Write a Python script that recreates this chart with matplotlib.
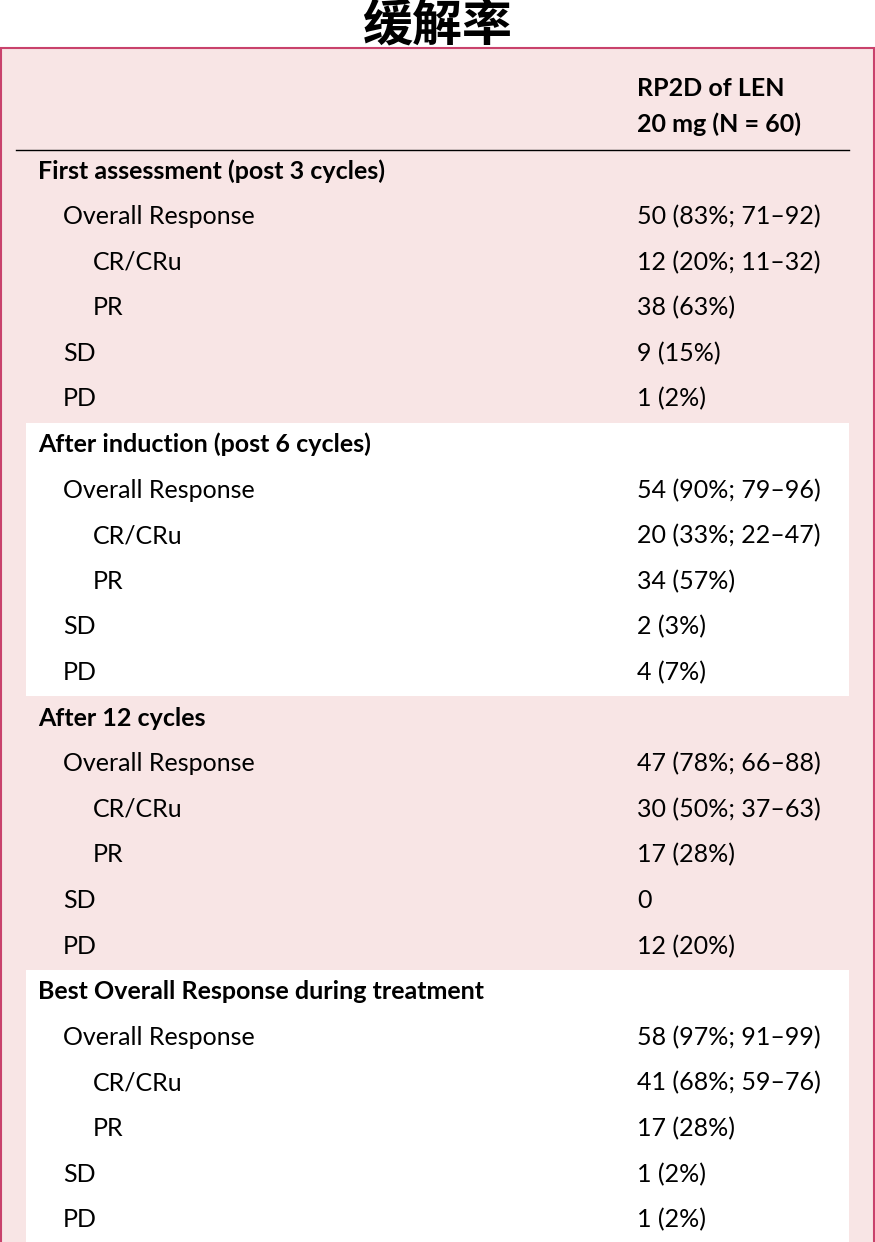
import matplotlib.pyplot as plt
from matplotlib.patches import Rectangle

title = '缓解率'
header = ['RP2D of LEN', '20 mg (N = 60)']
sections = ['First assessment (post 3 cycles)',
            'After induction (post 6 cycles)',
            'After 12 cycles',
            'Best Overall Response during treatment']
row_labels = ['Overall Response', 'CR/CRu', 'PR', 'SD', 'PD']
row_levels = [1, 2, 2, 1, 1]
values = [
    ['50 (83%; 71–92)', '12 (20%; 11–32)', '38 (63%)', '9 (15%)', '1 (2%)'],
    ['54 (90%; 79–96)', '20 (33%; 22–47)', '34 (57%)', '2 (3%)', '4 (7%)'],
    ['47 (78%; 66–88)', '30 (50%; 37–63)', '17 (28%)', '0', '12 (20%)'],
    ['58 (97%; 91–99)', '41 (68%; 59–76)', '17 (28%)', '1 (2%)', '1 (2%)'],
]

W, H = 875, 1242
fig = plt.figure(figsize=(W / 100, H / 100), dpi=100)
ax = fig.add_axes([0, 0, 1, 1])
ax.set_xlim(0, W)
ax.set_ylim(H, 0)
ax.axis('off')

pink = '#f8e5e5'
ax.add_patch(Rectangle((1, 48), W - 2, H, facecolor=pink,
                       edgecolor='#c9426c', lw=1.5))

ax.text(W / 2, 27, title, ha='center', va='center', fontsize=36,
        fontweight='bold', family=['Noto Sans CJK SC', 'DejaVu Sans'])

font = 'Lato'
fs = 18
ax.text(637, 88, header[0], fontsize=fs, fontweight='bold', family=font,
        va='center')
ax.text(637, 124, header[1], fontsize=fs, fontweight='bold', family=font,
        va='center')
ax.plot([16, 849], [150, 150], color='black', lw=1)

row_h = 45.6
y0 = 171
indent = {1: 63, 2: 93}
for s, name in enumerate(sections):
    top = y0 + s * 6 * row_h
    if s % 2 == 1:
        ax.add_patch(Rectangle((26, top - 22), 823, 6 * row_h,
                               facecolor='white', edgecolor='none'))
    ax.text(38, top, name, fontsize=fs, fontweight='bold', family=font,
            va='center')
    for i, lab in enumerate(row_labels):
        y = top + (i + 1) * row_h
        ax.text(indent[row_levels[i]], y, lab, fontsize=fs, family=font,
                va='center')
        ax.text(637, y, values[s][i], fontsize=fs, family=font, va='center')

fig.savefig('out.png', dpi=100)
